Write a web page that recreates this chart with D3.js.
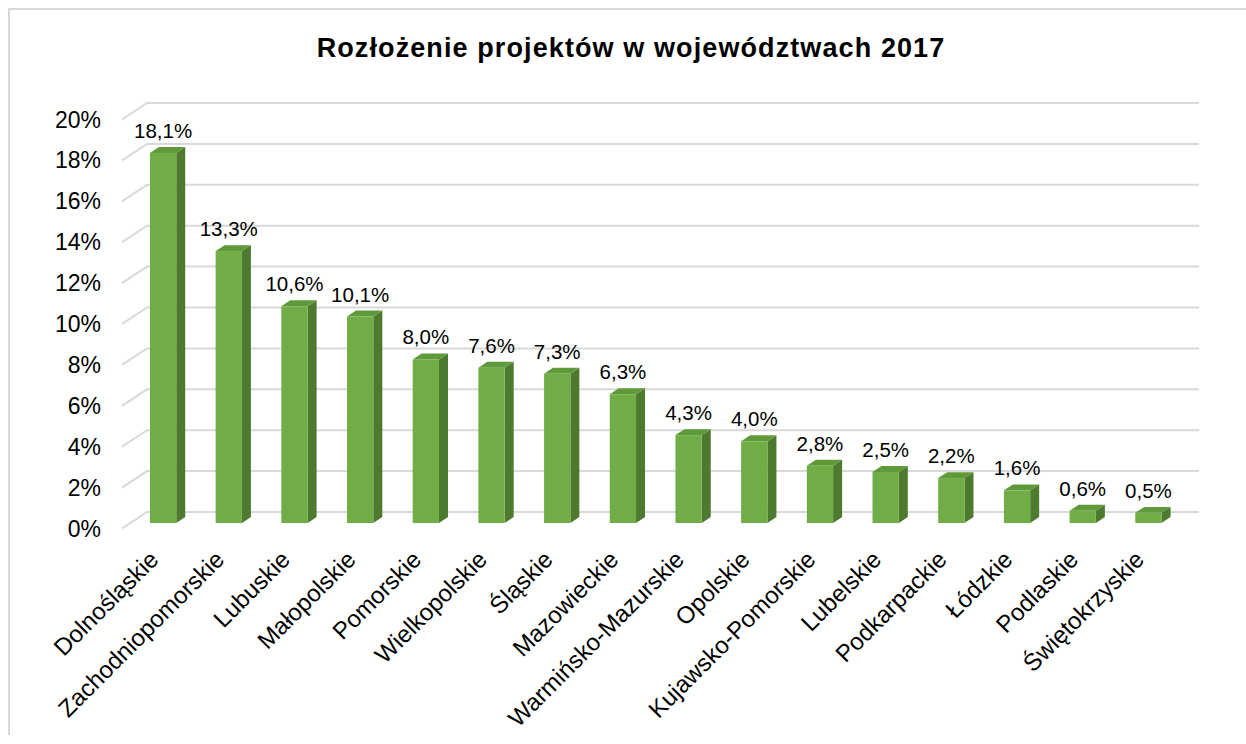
<!DOCTYPE html>
<html>
<head>
<meta charset="utf-8">
<script src="https://cdn.jsdelivr.net/npm/d3@7"></script>
<style>
  body { margin: 0; background: #fff; }
  text { font-family: Arial, "Liberation Sans", sans-serif; fill: #000; }
</style>
</head>
<body>
<script>

var width = 1246;
var height = 744;

var title = "Rozłożenie projektów w województwach 2017";

var regions = ["Dolnośląskie", "Zachodniopomorskie", "Lubuskie", "Małopolskie", "Pomorskie",
  "Wielkopolskie", "Śląskie", "Mazowieckie", "Warmińsko-Mazurskie", "Opolskie",
  "Kujawsko-Pomorskie", "Lubelskie", "Podkarpackie", "Łódzkie", "Podlaskie", "Świętokrzyskie"];

var shares = [0.181, 0.133, 0.106, 0.101, 0.080, 0.076, 0.073, 0.063, 0.043, 0.040,
  0.028, 0.025, 0.022, 0.016, 0.006, 0.005];

var yTicks = [0, 0.02, 0.04, 0.06, 0.08, 0.10, 0.12, 0.14, 0.16, 0.18, 0.20];

// 3d floor depth (front plane -> back wall)
var depthX = 25, depthY = 16.5;
var barT0 = 0.33, barT1 = 0.69;

var svg = d3.select("body")
  .append("svg")
  .attr("width", width)
  .attr("height", height);

// chart frame (only top + left visible)
svg.append("path")
  .attr("d", "M9,735V9H1250")
  .attr("fill", "none")
  .attr("stroke", "#d9d9d9")
  .attr("stroke-width", 2);

svg.append("text")
  .attr("x", 631)
  .attr("y", 57)
  .attr("text-anchor", "middle")
  .attr("font-size", "27px")
  .attr("font-weight", "bold")
  .attr("letter-spacing", "1.1px")
  .text(title);

// scales on the front plane
var x = d3.scaleBand()
  .domain(regions)
  .range([122, 1173])
  .paddingInner(0.6)
  .paddingOuter(0.3);

var y = d3.scaleLinear()
  .domain([0, 0.2])
  .range([528.5, 119.5]);

var pct = d3.format(".0%");
var pct1 = function(v) { return d3.format(".1f")(v * 100).replace(".", ",") + "%"; };

// gridlines: floor diagonal + back wall line
var grid = svg.append("g").attr("class", "grid");
grid.selectAll("path")
  .data(yTicks)
  .enter().append("path")
  .attr("fill", "none")
  .attr("stroke", "#d9d9d9")
  .attr("stroke-width", 2)
  .attr("d", function(d) {
    var y0 = y(d);
    return "M122," + y0 + "L" + (122 + depthX) + "," + (y0 - depthY) + "H1199";
  });

// y tick labels
svg.append("g").selectAll("text")
  .data(yTicks)
  .enter().append("text")
  .attr("x", 101)
  .attr("y", function(d) { return y(d); })
  .attr("dy", "0.35em")
  .attr("text-anchor", "end")
  .attr("font-size", "23px")
  .text(function(d) { return pct(d); });

// bars
var data = regions.map(function(r, i) { return { name: r, value: shares[i] }; });

var fx = depthX * barT0, fy = depthY * barT0;
var bdx = depthX * (barT1 - barT0), bdy = depthY * (barT1 - barT0);

var bars = svg.append("g").selectAll("g")
  .data(data)
  .enter().append("g");

// side face
bars.append("path")
  .attr("fill", "#4e7a2f")
  .attr("d", function(d) {
    var x1 = x(d.name) + fx + x.bandwidth();
    var yb = y(0) - fy, yt = y(d.value) - fy;
    return "M" + x1 + "," + yb + "L" + x1 + "," + yt + "L" + (x1 + bdx) + "," + (yt - bdy) +
      "L" + (x1 + bdx) + "," + (yb - bdy) + "Z";
  });

// top face
bars.append("path")
  .attr("fill", "#5f9a3a")
  .attr("d", function(d) {
    var x0 = x(d.name) + fx, x1 = x0 + x.bandwidth();
    var yt = y(d.value) - fy;
    return "M" + x0 + "," + yt + "L" + (x0 + bdx) + "," + (yt - bdy) + "L" + (x1 + bdx) + "," + (yt - bdy) +
      "L" + x1 + "," + yt + "Z";
  });

// front face
bars.append("rect")
  .attr("fill", "#70ad47")
  .attr("x", function(d) { return x(d.name) + fx; })
  .attr("y", function(d) { return y(d.value) - fy; })
  .attr("width", x.bandwidth())
  .attr("height", function(d) { return y(0) - y(d.value); });

// value labels
bars.append("text")
  .attr("x", function(d) { return x(d.name) + fx + x.bandwidth() / 2; })
  .attr("y", function(d) { return y(d.value) - fy - 15; })
  .attr("text-anchor", "middle")
  .attr("font-size", "20.5px")
  .text(function(d) { return pct1(d.value); });

// category labels
svg.append("g").selectAll("text")
  .data(regions)
  .enter().append("text")
  .attr("text-anchor", "end")
  .attr("font-size", "24px")
  .attr("dy", "0.35em")
  .attr("transform", function(d) {
    var cx = x(d) + fx + x.bandwidth() / 2 - 9;
    return "translate(" + cx + ",555) rotate(-45)";
  })
  .text(function(d) { return d; });

</script>
</body>
</html>
